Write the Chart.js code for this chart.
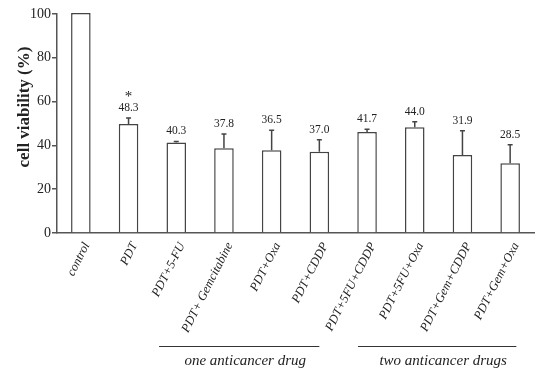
<!DOCTYPE html>
<html><head><meta charset="utf-8">
<script src="https://cdn.jsdelivr.net/npm/chart.js@4"></script>
<style>html,body{margin:0;padding:0;background:#fff}#w{width:538px;height:369px}</style>
</head><body><div id="w"><canvas id="c"></canvas></div>
<script>
const categories = ['control','PDT','PDT+5-FU','PDT+ Gemcitabine','PDT+Oxa','PDT+CDDP','PDT+5FU+CDDP','PDT+5FU+Oxa','PDT+Gem+CDDP','PDT+Gem+Oxa'];
const viability = [100.5, 49.8, 41.3, 38.7, 37.8, 37.1, 46.1, 48.3, 35.6, 31.8];
const errorSD = [0, 2.7, 0.5, 6.5, 9.1, 5.5, 1.3, 2.5, 11.1, 8.5];
const valueLabels = ['', '48.3', '40.3', '37.8', '36.5', '37.0', '41.7', '44.0', '31.9', '28.5'];
const significance = ['', '*', '', '', '', '', '', '', '', ''];
const yTicks = [0, 20, 40, 60, 80, 100];
const groups = [
  {label: 'one anticancer drug', from: 1.64, to: 5.0},
  {label: 'two anticancer drugs', from: 5.81, to: 9.13}
];
const SERIF = '"Liberation Serif", "Times New Roman", serif';

const extras = {
  id: 'extras',
  afterDatasetsDraw(chart) {
    const ctx = chart.ctx, x = chart.scales.x, y = chart.scales.y;
    ctx.save();
    // error bars
    ctx.strokeStyle = '#444'; ctx.lineWidth = 1.5;
    viability.forEach((v, i) => {
      if (!errorSD[i]) return;
      const px = x.getPixelForValue(i);
      const y0 = y.getPixelForValue(v), y1 = y.getPixelForValue(v + errorSD[i]);
      ctx.beginPath(); ctx.moveTo(px, y0); ctx.lineTo(px, y1);
      ctx.moveTo(px - 2.5, y1); ctx.lineTo(px + 2.5, y1); ctx.stroke();
    });
    // value labels
    ctx.fillStyle = '#222'; ctx.textAlign = 'center'; ctx.textBaseline = 'middle';
    viability.forEach((v, i) => {
      const px = x.getPixelForValue(i);
      const top = y.getPixelForValue(v + errorSD[i]);
      ctx.font = '11.5px ' + SERIF;
      if (valueLabels[i]) ctx.fillText(valueLabels[i], px, top - 10);
      if (significance[i]) { ctx.font = '15px ' + SERIF; ctx.fillText(significance[i], px, top - 21); }
    });
    // group annotations
    ctx.strokeStyle = '#333'; ctx.lineWidth = 1;
    groups.forEach(g => {
      const xa = x.getPixelForValue(g.from), xb = x.getPixelForValue(g.to);
      ctx.beginPath(); ctx.moveTo(xa, 346.5); ctx.lineTo(xb, 346.5); ctx.stroke();
      ctx.font = 'italic 15px ' + SERIF; ctx.fillStyle = '#222';
      ctx.fillText(g.label, (xa + xb) / 2 + 6, 361);
    });
    // y title
    ctx.translate(25, 107); ctx.rotate(-Math.PI / 2);
    ctx.font = 'bold 17px ' + SERIF; ctx.fillStyle = '#222';
    ctx.fillText('cell viability (%)', 0, 0);
    ctx.restore();
  }
};

new Chart(document.getElementById('c'), {
  type: 'bar',
  data: {
    labels: categories,
    datasets: [{
      data: viability,
      backgroundColor: '#fff',
      borderColor: '#444',
      borderWidth: 1.5,
      barPercentage: 0.41,
      categoryPercentage: 1.0,
      clip: false
    }]
  },
  options: {
    responsive: true, maintainAspectRatio: false, animation: false,
    layout: {padding: {top: 14, right: 4, left: 0, bottom: 0}},
    plugins: {legend: {display: false}, tooltip: {enabled: false}},
    scales: {
      x: {
        afterFit(s) { s.height = 136; },
        grid: {display: false, drawTicks: false},
        border: {color: '#555', width: 1.5},
        ticks: {
          minRotation: 63, maxRotation: 63, padding: 7, labelOffset: 6, color: '#222',
          font: {family: SERIF, size: 12.5, style: 'italic'}
        }
      },
      y: {
        min: 0, max: 100,
        afterFit(s) { s.width = 57; },
        afterBuildTicks(s) { s.ticks = yTicks.map(v => ({value: v})); },
        grid: {drawOnChartArea: false, tickLength: 5, color: '#555', lineWidth: 1.5},
        border: {color: '#555', width: 1.5},
        ticks: {padding: 1, color: '#222', font: {family: SERIF, size: 14}}
      }
    }
  },
  plugins: [extras]
});
</script></body></html>
